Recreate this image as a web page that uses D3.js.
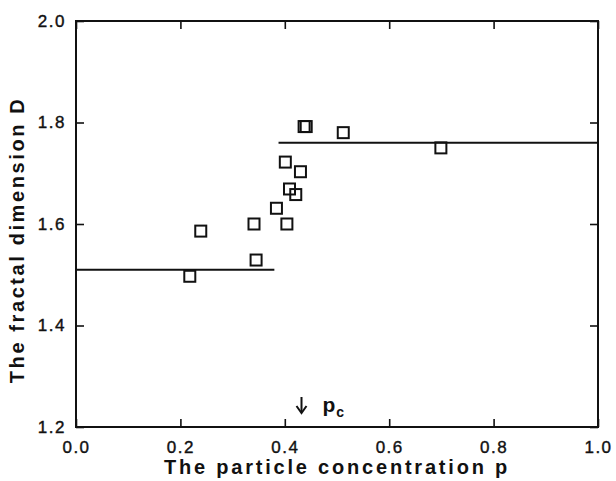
<!DOCTYPE html>
<html>
<head>
<meta charset="utf-8">
<script src="https://cdn.jsdelivr.net/npm/d3@7"></script>
<style>
  body { margin: 0; background: #fff; }
  svg text { font-family: "Liberation Sans", Arial, sans-serif; fill: #111; }
</style>
</head>
<body>
<div id="chart"></div>
<script>
// measured points (p, D)
var pValues = [0.218, 0.239, 0.341, 0.345, 0.384, 0.404, 0.401, 0.430, 0.409, 0.421, 0.437, 0.441, 0.512, 0.699];
var dValues = [1.497, 1.586, 1.600, 1.529, 1.631, 1.600, 1.722, 1.703, 1.669, 1.658, 1.792, 1.792, 1.780, 1.750];

// the two plateau lines
var lowLineP = [0, 0.38], lowLineD = 1.51;
var highLineP = [0.388, 1.0], highLineD = 1.76;

var xTicks = [0, 0.2, 0.4, 0.6, 0.8, 1.0];
var yTicks = [1.2, 1.4, 1.6, 1.8, 2.0];
var pc = 0.432;

var margin = { top: 21, right: 18, bottom: 54, left: 76 },
  width = 616 - margin.left - margin.right,
  height = 481 - margin.top - margin.bottom;

var x = d3.scaleLinear().domain([0, 1]).range([0, width]);
var y = d3.scaleLinear().domain([1.2, 2.0]).range([height, 0]);

var svg = d3.select("#chart").append("svg")
  .attr("width", 616).attr("height", 481)
  .append("g")
  .attr("transform", "translate(" + margin.left + "," + margin.top + ")");

var fmt = d3.format(".1f");

function styleAxis(g, showText) {
  g.select(".domain").remove();
  g.selectAll("line").attr("stroke", "#111").attr("stroke-width", 1.6);
  if (showText) {
    g.selectAll("text").attr("font-size", 17).attr("letter-spacing", 1.5)
      .attr("fill", "#111").attr("stroke", "#111").attr("stroke-width", 0.4);
  } else {
    g.selectAll("text").remove();
  }
}

svg.append("g").attr("transform", "translate(0," + height + ")")
  .call(d3.axisBottom(x).tickValues(xTicks).tickFormat(fmt).tickSizeInner(-8).tickSizeOuter(0).tickPadding(14))
  .call(g => styleAxis(g, true));

svg.append("g")
  .call(d3.axisTop(x).tickValues(xTicks).tickSizeInner(-8).tickSizeOuter(0))
  .call(g => styleAxis(g, false));

svg.append("g")
  .call(d3.axisLeft(y).tickValues(yTicks).tickFormat(fmt).tickSizeInner(-8).tickSizeOuter(0).tickPadding(10))
  .call(g => styleAxis(g, true));

svg.append("g").attr("transform", "translate(" + width + ",0)")
  .call(d3.axisRight(y).tickValues(yTicks).tickSizeInner(-8).tickSizeOuter(0))
  .call(g => styleAxis(g, false));

// frame
svg.append("rect")
  .attr("x", 0).attr("y", 0).attr("width", width).attr("height", height)
  .attr("fill", "none").attr("stroke", "#111").attr("stroke-width", 2);

// plateau lines
[[lowLineP, lowLineD], [highLineP, highLineD]].forEach(function(l) {
  svg.append("line")
    .attr("x1", x(l[0][0])).attr("x2", x(l[0][1]))
    .attr("y1", y(l[1])).attr("y2", y(l[1]))
    .attr("stroke", "#111").attr("stroke-width", 2);
});

// square markers
var s = 11;
svg.selectAll("rect.pt")
  .data(d3.zip(pValues, dValues))
  .enter().append("rect")
  .attr("class", "pt")
  .attr("x", d => x(d[0]) - s / 2)
  .attr("y", d => y(d[1]) - s / 2)
  .attr("width", s).attr("height", s)
  .attr("fill", "none").attr("stroke", "#111").attr("stroke-width", 2);

// p_c arrow
var ax = x(pc), ay = y(1.2) - 30;
svg.append("line")
  .attr("x1", ax).attr("x2", ax).attr("y1", ay).attr("y2", ay + 15)
  .attr("stroke", "#111").attr("stroke-width", 2);
svg.append("path")
  .attr("d", "M" + (ax - 5) + "," + (ay + 9) + "L" + ax + "," + (ay + 16) + "L" + (ax + 5) + "," + (ay + 9))
  .attr("fill", "none").attr("stroke", "#111").attr("stroke-width", 2);
var pcText = svg.append("text")
  .attr("x", ax + 21).attr("y", ay + 15)
  .attr("font-size", 21).attr("font-weight", "bold");
pcText.append("tspan").text("p");
pcText.append("tspan").attr("font-size", 14).attr("dy", 5).attr("dx", 1).text("c");

// axis titles
svg.append("text")
  .attr("x", width / 2).attr("y", height + 47)
  .attr("text-anchor", "middle")
  .attr("font-size", 20).attr("font-weight", "bold").attr("letter-spacing", 2.8)
  .text("The particle concentration p");

svg.append("text")
  .attr("transform", "translate(" + (-52) + "," + (219) + ") rotate(-90)")
  .attr("text-anchor", "middle")
  .attr("font-size", 20).attr("font-weight", "bold").attr("letter-spacing", 2.6)
  .text("The fractal dimension D");
</script>
</body>
</html>
